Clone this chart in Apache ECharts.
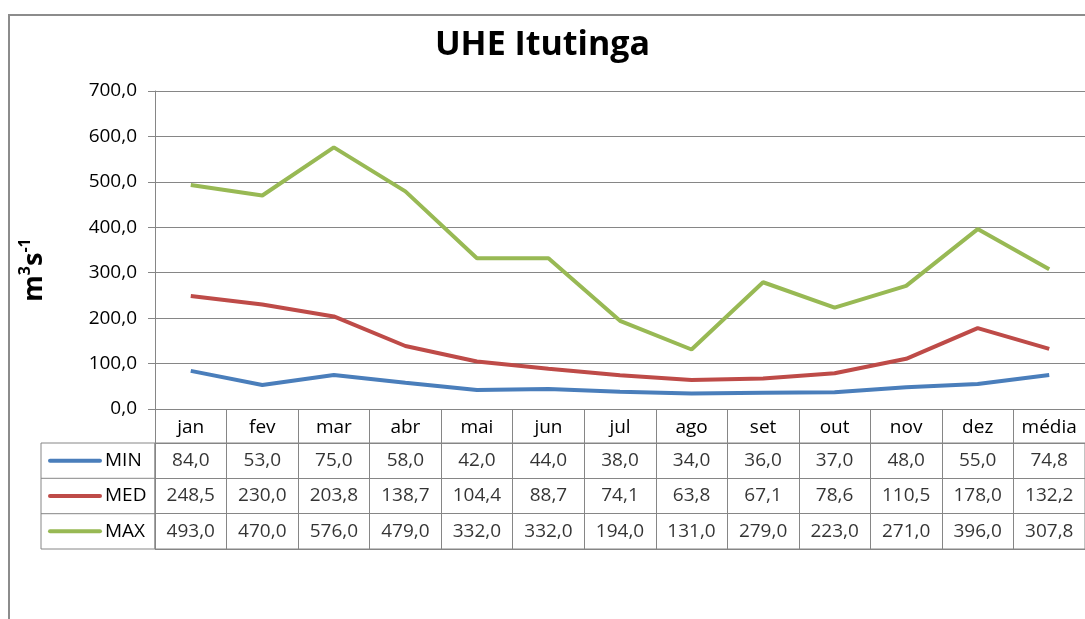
<!DOCTYPE html>
<html>
<head>
<meta charset="utf-8">
<script src="https://cdn.jsdelivr.net/npm/echarts@6/dist/echarts.min.js"></script>
<style>
  html, body { margin: 0; padding: 0; background: #fff; }
  #chart { width: 1085px; height: 619px; }
</style>
</head>
<body>
<div id="chart"></div>
<script>
// dados da UHE Itutinga (m3/s)
var meses = ['jan', 'fev', 'mar', 'abr', 'mai', 'jun', 'jul', 'ago', 'set', 'out', 'nov', 'dez', 'média']
var serieMin = [84.0, 53.0, 75.0, 58.0, 42.0, 44.0, 38.0, 34.0, 36.0, 37.0, 48.0, 55.0, 74.8]
var serieMed = [248.5, 230.0, 203.8, 138.7, 104.4, 88.7, 74.1, 63.8, 67.1, 78.6, 110.5, 178.0, 132.2]
var serieMax = [493.0, 470.0, 576.0, 479.0, 332.0, 332.0, 194.0, 131.0, 279.0, 223.0, 271.0, 396.0, 307.8]
var nomes = ['MIN', 'MED', 'MAX']

var cores = ['#4a7ebb', '#be4b48', '#98b954']
var fonte = 'Open Sans, sans-serif'
var cinza = '#868686'

function virgula(v) {
  return Number(v).toFixed(1).replace('.', ',')
}

var linhas = [serieMin, serieMed, serieMax]
var series = []
// linhas do gráfico
for (var i = 0; i < linhas.length; i++) {
  series.push({
    name: nomes[i],
    type: 'line',
    xAxisIndex: 0,
    yAxisIndex: 0,
    data: linhas[i],
    symbol: 'none',
    lineStyle: { color: cores[i], width: 4 },
    itemStyle: { color: cores[i] },
    z: 3,
  })
}
// tabela de dados embaixo
for (var j = 0; j < linhas.length; j++) {
  series.push({
    type: 'scatter',
    xAxisIndex: 1,
    yAxisIndex: 1,
    silent: true,
    symbolSize: 1,
    itemStyle: { color: 'rgba(0,0,0,0)' },
    data: linhas[j].map(function (v, k) {
      return [k, j, v]
    }),
    label: {
      show: true,
      position: 'inside',
      fontFamily: fonte,
      fontSize: 19,
      color: '#000',
      formatter: function (p) {
        return virgula(p.value[2])
      },
    },
  })
}

var myChart = echarts.init(document.getElementById('chart'))
myChart.setOption({
  animation: false,
  title: {
    text: 'UHE Itutinga',
    left: 'center',
    top: 23,
    textStyle: { fontFamily: fonte, fontSize: 34, fontWeight: 'bold', color: '#000' },
  },
  graphic: [
    // moldura do gráfico
    { type: 'rect', shape: { x: 9, y: 15, width: 1200, height: 800 }, style: { fill: 'none', stroke: '#8c8c8c', lineWidth: 2 }, silent: true },
    // coluna da legenda na tabela
    { type: 'rect', shape: { x: 41, y: 443, width: 114, height: 106 }, style: { fill: 'none', stroke: cinza, lineWidth: 1 }, silent: true },
    { type: 'line', shape: { x1: 41, y1: 478.3, x2: 155, y2: 478.3 }, style: { stroke: cinza, lineWidth: 1 }, silent: true },
    { type: 'line', shape: { x1: 41, y1: 513.7, x2: 155, y2: 513.7 }, style: { stroke: cinza, lineWidth: 1 }, silent: true },
  ],
  grid: [
    { left: 155, right: -6, top: 91, height: 318 },
    { left: 155, right: -6, top: 443, height: 106, show: true, borderColor: cinza, borderWidth: 1 },
  ],
  xAxis: [
    {
      gridIndex: 0,
      type: 'category',
      data: meses,
      boundaryGap: true,
      axisLine: { lineStyle: { color: cinza } },
      axisTick: { show: true, interval: 0, length: 34, lineStyle: { color: cinza } },
      axisLabel: { interval: 0, margin: 9, fontFamily: fonte, fontSize: 19, color: '#000' },
      splitLine: { show: false },
    },
    {
      gridIndex: 1,
      type: 'category',
      data: meses,
      boundaryGap: true,
      axisLine: { show: false },
      axisTick: { show: false },
      axisLabel: { show: false },
      splitLine: { show: true, interval: 0, lineStyle: { color: cinza } },
    },
  ],
  yAxis: [
    {
      gridIndex: 0,
      type: 'value',
      min: 0,
      max: 700,
      interval: 100,
      name: '{a|m}{s|3}{a|s}{s|-1}',
      nameLocation: 'middle',
      nameGap: 104,
      nameTextStyle: {
        padding: [0, 40, 0, 0],
        rich: {
          a: { fontFamily: fonte, fontSize: 27, fontWeight: 'bold', color: '#000', lineHeight: 34 },
          s: { fontFamily: fonte, fontSize: 16, fontWeight: 'bold', color: '#000', verticalAlign: 'top', lineHeight: 34 },
        },
      },
      axisLine: { show: true, lineStyle: { color: cinza } },
      axisTick: { show: true, length: 7, lineStyle: { color: cinza } },
      axisLabel: {
        margin: 18,
        fontFamily: fonte,
        fontSize: 19,
        color: '#000',
        formatter: function (v) {
          return virgula(v)
        },
      },
      splitLine: { show: true, lineStyle: { color: cinza, width: 1 } },
    },
    {
      gridIndex: 1,
      type: 'category',
      data: nomes,
      inverse: true,
      boundaryGap: true,
      axisLine: { show: false },
      axisTick: { show: false },
      splitLine: { show: true, interval: 0, lineStyle: { color: cinza } },
      axisLabel: {
        margin: 107,
        align: 'left',
        formatter: function (v, idx) {
          return '{l' + idx + '|}{n|' + v + '}'
        },
        rich: {
          l0: { width: 54, height: 4, backgroundColor: cores[0], borderRadius: 2 },
          l1: { width: 54, height: 4, backgroundColor: cores[1], borderRadius: 2 },
          l2: { width: 54, height: 4, backgroundColor: cores[2], borderRadius: 2 },
          n: { fontFamily: fonte, fontSize: 19, color: '#000', padding: [0, 0, 0, 3] },
        },
      },
    },
  ],
  series: series,
})
</script>
</body>
</html>
